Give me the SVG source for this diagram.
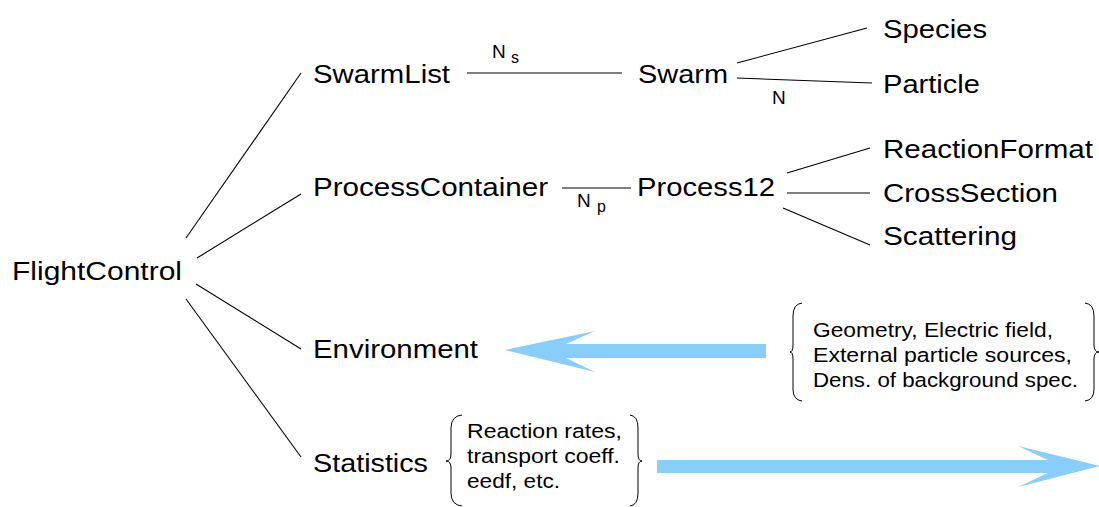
<svg xmlns="http://www.w3.org/2000/svg" width="1099" height="507" viewBox="0 0 1099 507">
<style>
text{font-family:"Liberation Sans",Arial,Helvetica,sans-serif;fill:#000}
.n{font-size:26px}
.s{font-size:20.5px}
.lbl{font-size:19px}
.sub{font-size:16px}
.c line{stroke:#000;stroke-width:1.1}
.brace{fill:none;stroke:#000;stroke-width:1}
.arrow{fill:#87CEFA}
</style>
<rect width="1099" height="507" fill="#fff"/>
<g class="c" id="connectors">
<line x1="186" y1="238" x2="301" y2="73"/>
<line x1="197" y1="258" x2="301" y2="194"/>
<line x1="196" y1="284" x2="301" y2="349"/>
<line x1="186" y1="299" x2="301" y2="457"/>
<line x1="467" y1="73" x2="622" y2="73"/>
<line x1="737" y1="63" x2="867" y2="28"/>
<line x1="737" y1="78" x2="872" y2="83"/>
<line x1="562" y1="188" x2="631" y2="188"/>
<line x1="787" y1="173" x2="870" y2="148"/>
<line x1="787" y1="193" x2="870" y2="193"/>
<line x1="783" y1="208" x2="870" y2="245"/>
</g>
<g id="labels">
<text class="lbl" x="492" y="58">N</text><text class="sub" x="511" y="63">s</text>
<text class="lbl" x="772" y="104">N</text>
<text class="lbl" x="577" y="207">N</text><text class="sub" x="597" y="212">p</text>
</g>
<g id="FlightControl"><text class="n" x="12" y="280" textLength="170" lengthAdjust="spacingAndGlyphs">FlightControl</text></g>
<g id="SwarmList"><text class="n" x="313" y="83" textLength="137" lengthAdjust="spacingAndGlyphs">SwarmList</text></g>
<g id="Swarm"><text class="n" x="638" y="83" textLength="90" lengthAdjust="spacingAndGlyphs">Swarm</text></g>
<g id="Species"><text class="n" x="883" y="38" textLength="104" lengthAdjust="spacingAndGlyphs">Species</text></g>
<g id="Particle"><text class="n" x="883" y="93" textLength="97" lengthAdjust="spacingAndGlyphs">Particle</text></g>
<g id="ProcessContainer"><text class="n" x="313" y="196" textLength="235" lengthAdjust="spacingAndGlyphs">ProcessContainer</text></g>
<g id="Process12"><text class="n" x="637" y="196" textLength="138" lengthAdjust="spacingAndGlyphs">Process12</text></g>
<g id="ReactionFormat"><text class="n" x="883" y="158" textLength="210" lengthAdjust="spacingAndGlyphs">ReactionFormat</text></g>
<g id="CrossSection"><text class="n" x="883" y="202" textLength="175" lengthAdjust="spacingAndGlyphs">CrossSection</text></g>
<g id="Scattering"><text class="n" x="883" y="245" textLength="134" lengthAdjust="spacingAndGlyphs">Scattering</text></g>
<g id="Environment"><text class="n" x="313" y="358" textLength="165" lengthAdjust="spacingAndGlyphs">Environment</text></g>
<g id="Statistics"><text class="n" x="313" y="472" textLength="115" lengthAdjust="spacingAndGlyphs">Statistics</text></g>
<g id="env-input">
<path class="brace" d="M802,303 Q793,304 793,316 L793,345 Q793,352 790,352 Q793,352 793,359 L793,389 Q793,400 802,401"/>
<path class="brace" d="M1085,303 Q1094,304 1094,316 L1094,345 Q1094,352 1099,352 Q1094,352 1094,359 L1094,389 Q1094,400 1085,401"/>
<text class="s" x="813" y="337" textLength="240" lengthAdjust="spacingAndGlyphs">Geometry, Electric field,</text>
<text class="s" x="813" y="362" textLength="259" lengthAdjust="spacingAndGlyphs">External particle sources,</text>
<text class="s" x="813" y="387" textLength="265" lengthAdjust="spacingAndGlyphs">Dens. of background spec.</text>
</g>
<g id="stat-output">
<path class="brace" d="M462,415 Q451,416 451,428 L451,454 Q451,461 446,461 Q451,461 451,468 L451,493 Q451,505 462,506"/>
<path class="brace" d="M630,415 Q638,416 638,428 L638,454 Q638,461 642,461 Q638,461 638,468 L638,493 Q638,505 630,506"/>
<text class="s" x="467" y="438" textLength="155" lengthAdjust="spacingAndGlyphs">Reaction rates,</text>
<text class="s" x="467" y="463" textLength="153" lengthAdjust="spacingAndGlyphs">transport coeff.</text>
<text class="s" x="467" y="488" textLength="93" lengthAdjust="spacingAndGlyphs">eedf, etc.</text>
</g>
<g id="arrows">
<polygon class="arrow" points="505,350 595,331 566,344 766,344 766,358 566,358 595,372"/>
<polygon class="arrow" points="657,460 1048,460 1018,446 1100,466 1018,487 1048,473 657,473"/>
</g>
</svg>
